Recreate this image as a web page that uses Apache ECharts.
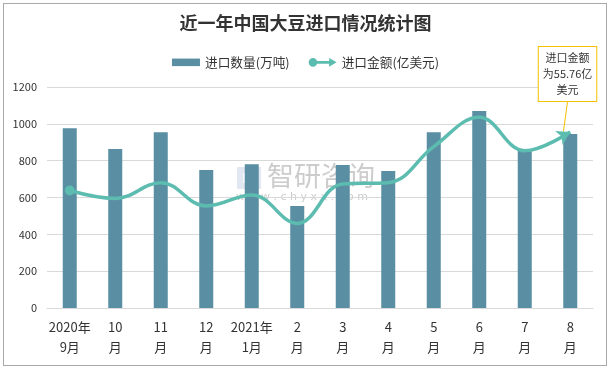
<!DOCTYPE html>
<html><head><meta charset="utf-8">
<script src="https://cdn.jsdelivr.net/npm/echarts@6/dist/echarts.min.js"></script>
<style>
html,body{margin:0;padding:0;background:#fff;}
#c{width:611px;height:369px;position:absolute;left:0;top:0;}
#b{position:absolute;left:3px;top:3px;width:602px;height:361px;border:1px solid #a9a9a9;pointer-events:none;}
</style></head>
<body><div id="c"></div><div id="b"></div>
<script>
const categories = ['2020年\n9月','10\n月','11\n月','12\n月','2021年\n1月','2\n月','3\n月','4\n月','5\n月','6\n月','7\n月','8\n月'];
const quantity = [976, 863, 954, 749, 780, 554, 776, 744, 954, 1070, 863, 945];
const amount = [37.2, 34.7, 39.7, 32.3, 35.8, 26.8, 39.3, 39.7, 51.1, 60.4, 49.8, 55.76];
const yTicks = {min: 0, max: 1200, interval: 200};

const chart = echarts.init(document.getElementById('c'));
const font = 'Noto Sans CJK SC';
const lastIdx = amount.length - 1;
const lineData = amount.map((v, i) => {
  if (i === 0) return {value: v, symbol: 'circle', symbolSize: 10};
  if (i === lastIdx) return {
    value: v, symbol: 'arrow', symbolSize: [12, 13], symbolRotate: -62,
    label: {
      show: true, position: 'top', distance: 4,
      formatter: '进口金额\n为55.76亿\n美元',
      backgroundColor: '#fff', borderColor: '#f5c000', borderWidth: 1,
      padding: [3, 4], lineHeight: 16, fontSize: 11, color: '#333', fontFamily: font, align: 'center'
    },
    labelLine: {show: true, lineStyle: {color: '#f5c000', width: 1}}
  };
  return {value: v, symbol: 'none'};
});

chart.setOption({
  animation: false,
  textStyle: {fontFamily: font},
  title: {
    text: '近一年中国大豆进口情况统计图', left: 'center', top: 9,
    textStyle: {fontSize: 18, fontWeight: 'bold', color: '#333', fontFamily: font}
  },
  legend: {
    top: 51, left: 'center', itemGap: 19, itemWidth: 28, itemHeight: 9,
    textStyle: {fontSize: 12.7, color: '#333', fontFamily: font},
    data: [
      {name: '进口数量(万吨)', icon: 'path://M0,0 L26,0 L26,7 L0,7 Z'},
      {name: '进口金额(亿美元)', icon: 'path://M0,9 A8,8 0 1,1 16,9 A8,8 0 1,1 0,9 Z M14,6.5 L40,6.5 L40,11.5 L14,11.5 Z M38,1 L52,9 L38,17 Z'}
    ]
  },
  grid: {left: 47, right: 18, top: 87, bottom: 61},
  xAxis: {
    type: 'category', data: categories,
    axisLine: {lineStyle: {color: '#d9d9d9'}},
    axisTick: {show: false},
    axisLabel: {color: '#333', fontSize: 13, lineHeight: 20, margin: 9, interval: 0, fontFamily: font}
  },
  yAxis: [{
    type: 'value', min: yTicks.min, max: yTicks.max, interval: yTicks.interval,
    axisLine: {show: false}, axisTick: {show: false},
    axisLabel: {color: '#333', fontSize: 11, margin: 10, formatter: v => String(v)},
    splitLine: {lineStyle: {color: '#d9d9d9'}}
  }, {
    type: 'value', min: 0, max: 70, show: false, splitLine: {show: false}
  }],
  graphic: [
    {type: 'group', left: 237, top: 167, z: 0, children: [
      {type: 'rect', shape: {x: 0, y: 0, width: 24, height: 22}, style: {fill: '#c9d6e6', opacity: 0.55}},
      {type: 'rect', shape: {x: 6, y: 6, width: 12, height: 10}, style: {fill: '#fff', opacity: 0.7}}
    ]},
    {type: 'text', left: 267, top: 162, z: 0, style: {text: '智研咨询', fontSize: 27, fill: '#bbbbbb', opacity: 0.75, fontFamily: font}},
    {type: 'text', left: 236, top: 192, z: 0, style: {text: 'w w w . c h y x x . c o m', fontSize: 11, fill: '#bbbbbb', opacity: 0.75, fontFamily: 'DejaVu Sans'}}
  ],
  series: [{
    name: '进口数量(万吨)', type: 'bar', data: quantity, barWidth: 14, z: 2,
    itemStyle: {color: '#5a8ea3'}
  }, {
    name: '进口金额(亿美元)', type: 'line', yAxisIndex: 1, data: lineData, smooth: 0.4, z: 3,
    symbol: 'none', showSymbol: true,
    lineStyle: {color: '#5cbcb0', width: 3.5},
    itemStyle: {color: '#5cbcb0'},
    labelLayout: function (p) { return p.dataIndex === lastIdx ? {dx: 3, dy: -20} : {}; }
  }]
});
</script></body></html>
